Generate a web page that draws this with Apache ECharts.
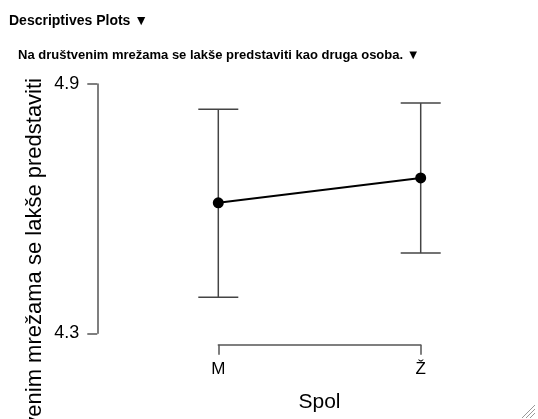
<!DOCTYPE html>
<html>
<head>
<meta charset="utf-8">
<title>Descriptives Plots</title>
<script src="https://cdn.jsdelivr.net/npm/echarts@6/dist/echarts.min.js"></script>
<style>
    html,body{margin:0;padding:0;background:#fff;}
    #chart{width:538px;height:419px;}
</style>
</head>
<body>
<div id="chart"></div>
<script>
// podaci (data) - Spol vs. mean with CI
var spol = ['M', 'Ž'];
var means = [4.614, 4.674];
var lower = [4.387, 4.493];
var upper = [4.839, 4.854];
var yTicks = [4.3, 4.9];

var font = '"Liberation Sans", Arial, sans-serif';

var chart = echarts.init(document.getElementById('chart'));

//error bar data: [category index, lower, upper]
var errData = spol.map(function(s, i){
    return [i, lower[i], upper[i]];
});

var option = {
    animation: false,
    backgroundColor: '#fff',
    textStyle: { fontFamily: font },
    title: [
        {
            text: 'Descriptives Plots ▼',
            left: 9, top: 14, padding: 0,
            textStyle: { fontFamily: font, fontSize: 14, fontWeight: 'bold', color: '#000' }
        },
        {
            text: 'Na društvenim mrežama se lakše predstaviti kao druga osoba. ▼',
            left: 18, top: 49, padding: 0,
            textStyle: { fontFamily: font, fontSize: 13, fontWeight: 'bold', color: '#000' }
        }
    ],
    grid: { left: 218.3, right: 117.3, top: 84, bottom: 85.7 },
    xAxis: {
        type: 'category',
        data: spol,
        boundaryGap: false,
        offset: 11.4,
        name: 'Spol',
        nameLocation: 'middle',
        nameGap: 47,
        nameTextStyle: { fontFamily: font, fontSize: 21, color: '#000' },
        axisLine: { lineStyle: { color: '#555', width: 1.5 } },
        axisTick: { length: 10, lineStyle: { color: '#555', width: 1.5 } },
        axisLabel: { margin: 16, fontFamily: font, fontSize: 17, color: '#000' },
        splitLine: { show: false }
    },
    yAxis: {
        type: 'value',
        min: 4.3,
        max: 4.9,
        offset: 121,
        axisLine: { show: true, lineStyle: { color: '#555', width: 1.5 } },
        axisTick: { show: true, length: 10, customValues: yTicks, lineStyle: { color: '#555', width: 1.5 } },
        axisLabel: {
            customValues: yTicks, margin: 18,
            fontFamily: font, fontSize: 18, color: '#000',
            formatter: function(v){ return v.toFixed(1); }
        },
        splitLine: { show: false }
    },
    graphic: [
        {
            // y axis title, clipped like in the original
            type: 'text',
            x: 35, y: 78,
            rotation: Math.PI / 2,
            style: {
                text: 'Na društvenim mrežama se lakše predstaviti',
                fontFamily: font, fontSize: 22, fill: '#000',
                align: 'right', verticalAlign: 'middle'
            }
        },
        //resize handle
        { type: 'line', shape: { x1: 535, y1: 405, x2: 522, y2: 418 }, style: { stroke: '#999', lineWidth: 1 } },
        { type: 'line', shape: { x1: 535, y1: 409, x2: 526, y2: 418 }, style: { stroke: '#999', lineWidth: 1 } },
        { type: 'line', shape: { x1: 535, y1: 413, x2: 530, y2: 418 }, style: { stroke: '#999', lineWidth: 1 } }
    ],
    series: [
        {
            type: 'custom',
            data: errData,
            z: 1,
            renderItem: function(params, api){
                var x = api.value(0);
                var lo = api.coord([x, api.value(1)]);
                var hi = api.coord([x, api.value(2)]);
                var w = 20;
                var st = { stroke: '#444', lineWidth: 1.5 };
                return {
                    type: 'group',
                    children: [
                        { type: 'line', shape: { x1: lo[0], y1: lo[1], x2: hi[0], y2: hi[1] }, style: st },
                        { type: 'line', shape: { x1: hi[0] - w, y1: hi[1], x2: hi[0] + w, y2: hi[1] }, style: st },
                        { type: 'line', shape: { x1: lo[0] - w, y1: lo[1], x2: lo[0] + w, y2: lo[1] }, style: st }
                    ]
                };
            }
        },
        {
            type: 'line',
            data: means,
            z: 3,
            symbol: 'circle',
            symbolSize: 11,
            itemStyle: { color: '#000' },
            lineStyle: { color: '#000', width: 2 }
        }
    ]
};

chart.setOption(option);
</script>
</body>
</html>
